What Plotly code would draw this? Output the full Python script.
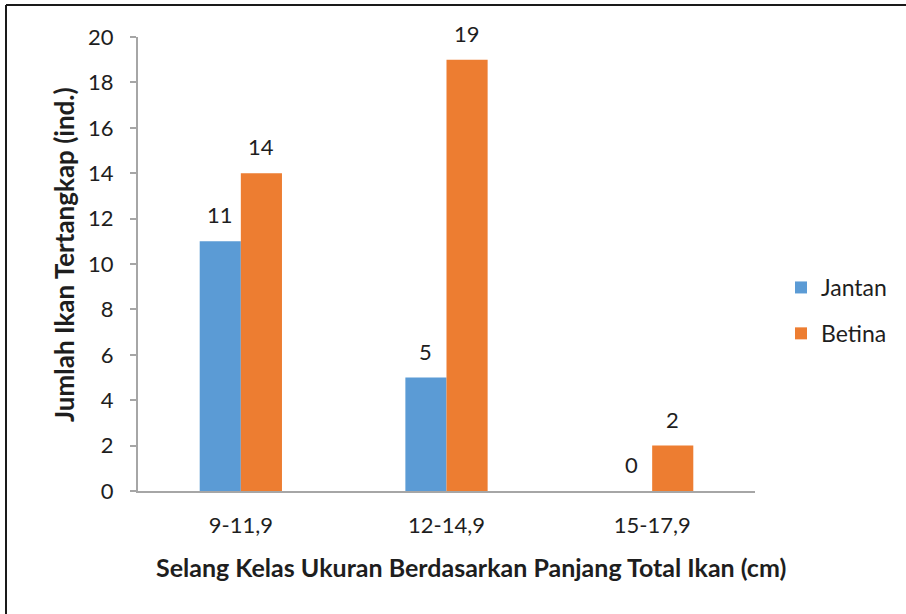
import plotly.graph_objects as go

categories = ["9-11,9", "12-14,9", "15-17,9"]
jantan = [11, 5, 0]
betina = [14, 19, 2]
series_names = ["Jantan", "Betina"]
colors = ["#5b9bd5", "#ed7d31"]
y_ticks = list(range(0, 21, 2))
x_title = "Selang Kelas Ukuran Berdasarkan Panjang Total Ikan (cm)"
y_title = "Jumlah Ikan Tertangkap (ind.)"

FONT = "Lato"
TXT = "#1e1e1e"

W, H = 906, 614
L, R, T, B = 138, 151, 37, 123
pw, ph = W - L - R, H - T - B

fig = go.Figure()
x_idx = list(range(len(categories)))
for name, vals, col in zip(series_names, [jantan, betina], colors):
    fig.add_trace(go.Bar(x=x_idx, y=vals, name=name, marker=dict(color=col, line=dict(width=0)),
                         legendgroup=name))

# data labels
half = (1 - 0.6) / 4
for k, vals in enumerate([jantan, betina]):
    off = -half if k == 0 else half
    for i, v in enumerate(vals):
        fig.add_annotation(x=i + off, y=v, text=str(v), showarrow=False, yanchor="bottom",
                           yshift=11, font=dict(family=FONT, size=22, color=TXT))

def px2x(p):
    return (p - L) / pw

def py2y(p):
    return (H - B - p) / ph

# axis titles
fig.add_annotation(xref="paper", yref="paper", x=px2x(471), y=py2y(567), text="<b>" + x_title + "</b>",
                   showarrow=False, xanchor="center", yanchor="middle",
                   font=dict(family=FONT, size=25, color=TXT))
fig.add_annotation(xref="paper", yref="paper", x=px2x(64), y=py2y(255), text="<b>" + y_title + "</b>",
                   showarrow=False, xanchor="center", yanchor="middle", textangle=-90,
                   font=dict(family=FONT, size=26, color=TXT))

line = dict(color="#1a1a1a", width=2)
fig.add_shape(type="line", xref="paper", yref="paper", x0=px2x(6), x1=px2x(906), y0=py2y(5), y1=py2y(5), line=line)
fig.add_shape(type="line", xref="paper", yref="paper", x0=px2x(6), x1=px2x(6), y0=py2y(5), y1=py2y(614), line=line)

fig.update_layout(
    width=W, height=H,
    margin=dict(l=L, r=R, t=T, b=B, autoexpand=False),
    paper_bgcolor="white", plot_bgcolor="white",
    barmode="group", bargap=0.6, bargroupgap=0,
    font=dict(family=FONT, size=22, color=TXT),
    showlegend=True,
    legend=dict(x=px2x(781), y=py2y(266), xanchor="left", yanchor="top",
                font=dict(family=FONT, size=23, color=TXT),
                traceorder="grouped", tracegroupgap=13, bgcolor="rgba(0,0,0,0)",
                itemwidth=30),
    xaxis=dict(range=[-0.5, 2.5], tickvals=x_idx, ticktext=categories,
               showline=True, linecolor="#a6a6a6", linewidth=2, ticks="",
               showgrid=False, zeroline=False, tickfont=dict(size=22),
               ticklabelstandoff=14),
    yaxis=dict(range=[0, 20], tickvals=y_ticks, showline=True, linecolor="#a6a6a6", linewidth=2,
               ticks="outside", ticklen=6, tickcolor="#a6a6a6", tickwidth=2,
               ticklabelstandoff=12,
               showgrid=False, zeroline=False, tickfont=dict(size=22)),
)

fig.write_html("out.html", config={"displayModeBar": False},
               post_script="document.body.style.margin='0';")
